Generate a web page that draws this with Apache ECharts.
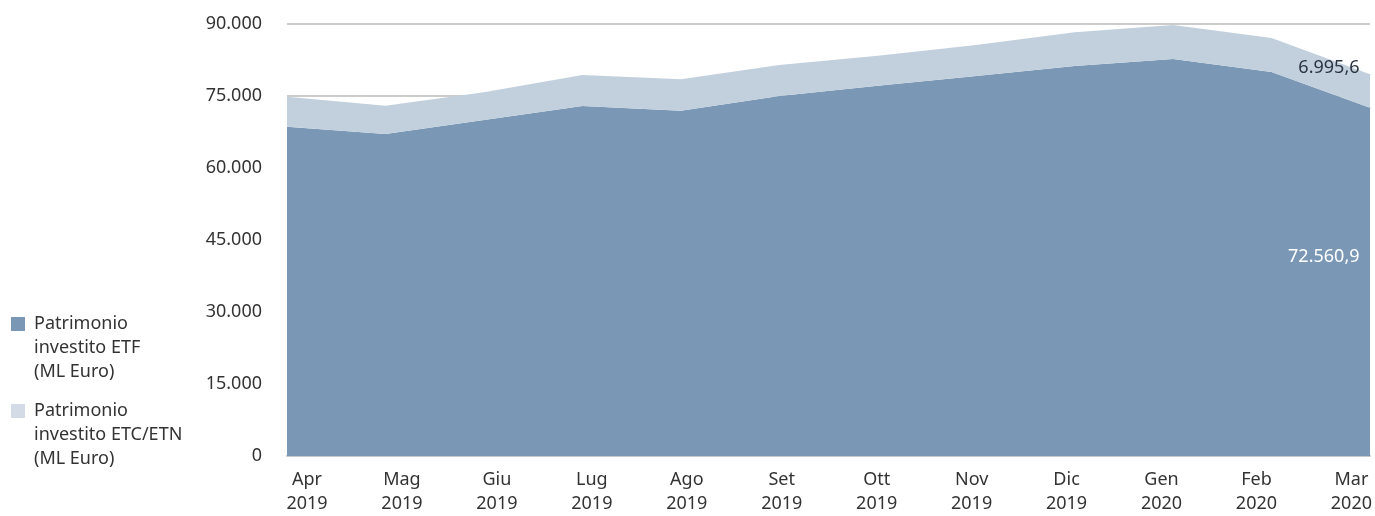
<!DOCTYPE html>
<html>
    <head>
        <meta charset="UTF-8" />
        <title>Patrimonio investito ETF / ETC-ETN</title>
        <style>
            html,
            body {
                margin: 0;
                padding: 0;
                background: #fff;
            }
            #chart {
                width: 1375px;
                height: 516px;
            }
        </style>
    </head>
    <body>
        <div id="chart"></div>
        <script src="https://cdn.jsdelivr.net/npm/echarts@6/dist/echarts.min.js"></script>
        <script>
            // data
            const months = ["Apr\n2019", "Mag\n2019", "Giu\n2019", "Lug\n2019", "Ago\n2019", "Set\n2019", "Ott\n2019", "Nov\n2019", "Dic\n2019", "Gen\n2020", "Feb\n2020", "Mar\n2020"];
            const etf = [68600, 67100, 70000, 72900, 71950, 75000, 77150, 79170, 81250, 82700, 80000, 72560.9];
            const etcEtn = [6260, 5880, 5800, 6480, 6530, 6460, 6250, 6450, 7010, 7090, 7100, 6995.6];
            const yTicks = [0, 15000, 30000, 45000, 60000, 75000, 90000];

            const nameEtf = "Patrimonio\ninvestito ETF\n(ML Euro)";
            const nameEtc = "Patrimonio\ninvestito ETC/ETN\n(ML Euro)";
            const font = "Noto Sans";

            function itNum(v, dec) {
                const parts = Number(v).toFixed(dec).split(".");
                parts[0] = parts[0].replace(/\B(?=(\d{3})+(?!\d))/g, ".");
                return parts.join(",");
            }

            // only the last point gets a (tiny) symbol so its label can be drawn
            const last = months.length - 1;
            function withEndLabel(arr, color, offset) {
                return arr.map((v, i) =>
                    i === last
                        ? {
                              value: v,
                              symbol: "circle",
                              symbolSize: 1,
                              label: {
                                  show: true,
                                  position: "left",
                                  distance: 10,
                                  offset: offset,
                                  color: color,
                                  fontSize: 18,
                                  fontFamily: font,
                                  formatter: (p) => itNum(p.value, 1),
                              },
                          }
                        : v
                );
            }

            // legend text: an empty top line so the icon sits next to the first line
            const legendText = {
                fontSize: 18,
                fontFamily: font,
                color: "#333",
                lineHeight: 24,
                rich: {
                    p: { height: 48, lineHeight: 48, fontSize: 1 },
                    t: { fontSize: 18, lineHeight: 24, color: "#333", padding: [0, 0, 0, 4] },
                },
            };
            const legendFormatter = (name) => "{p| }\n" + name.split("\n").map((s) => "{t|" + s + "}").join("\n");

            const chart = echarts.init(document.getElementById("chart"));
            chart.setOption({
                animation: false,
                textStyle: { fontFamily: font },
                legend: [
                    {
                        orient: "vertical",
                        left: 6,
                        top: 259,
                        itemWidth: 14,
                        itemHeight: 14,
                        icon: "rect",
                        selectedMode: false,
                        formatter: legendFormatter,
                        textStyle: legendText,
                        data: [{ name: nameEtf, itemStyle: { color: "#7a98b5" } }],
                    },
                    {
                        orient: "vertical",
                        left: 6,
                        top: 346,
                        itemWidth: 14,
                        itemHeight: 14,
                        icon: "rect",
                        selectedMode: false,
                        formatter: legendFormatter,
                        textStyle: legendText,
                        data: [{ name: nameEtc, itemStyle: { color: "#d3dbe6" } }],
                    },
                ],
                grid: [
                    { left: 287, right: 5, top: 24, bottom: 60 },
                    // second grid only carries the month labels, spaced as in the original
                    { left: 307, right: 23, top: 24, bottom: 60 },
                ],
                xAxis: [
                    {
                        type: "category",
                        gridIndex: 0,
                        data: months,
                        boundaryGap: false,
                        axisLine: { show: true, lineStyle: { color: "#c4c9ce", width: 2 } },
                        axisTick: { show: false },
                        axisLabel: { show: false },
                        splitLine: { show: false },
                    },
                    {
                        type: "category",
                        gridIndex: 1,
                        data: months,
                        boundaryGap: false,
                        axisLine: { show: false },
                        axisTick: { show: false },
                        splitLine: { show: false },
                        axisLabel: {
                            interval: 0,
                            margin: 15,
                            color: "#333",
                            fontSize: 18,
                            lineHeight: 24,
                            fontFamily: font,
                        },
                    },
                ],
                yAxis: [
                    {
                        type: "value",
                        gridIndex: 0,
                        min: yTicks[0],
                        max: yTicks[yTicks.length - 1],
                        interval: yTicks[1] - yTicks[0],
                        axisLine: { show: false },
                        axisTick: { show: false },
                        axisLabel: {
                            margin: 25,
                            color: "#333",
                            fontSize: 18,
                            fontFamily: font,
                            formatter: (v) => itNum(v, 0),
                        },
                        splitLine: { lineStyle: { color: "#cccccc", width: 2 } },
                    },
                    {
                        type: "value",
                        gridIndex: 1,
                        show: false,
                    },
                ],
                series: [
                    {
                        name: nameEtf,
                        type: "line",
                        stack: "tot",
                        data: withEndLabel(etf, "#ffffff", [0, 149]),
                        symbol: "none",
                        lineStyle: { width: 0 },
                        itemStyle: { color: "#7a98b5" },
                        areaStyle: { color: "#7a98b5", opacity: 1 },
                    },
                    {
                        name: nameEtc,
                        type: "line",
                        stack: "tot",
                        data: withEndLabel(etcEtn, "#2b3440", [0, -6]),
                        symbol: "none",
                        lineStyle: { width: 0 },
                        itemStyle: { color: "#c2d0dd" },
                        areaStyle: { color: "#c2d0dd", opacity: 1 },
                    },
                ],
            });
        </script>
    </body>
</html>
